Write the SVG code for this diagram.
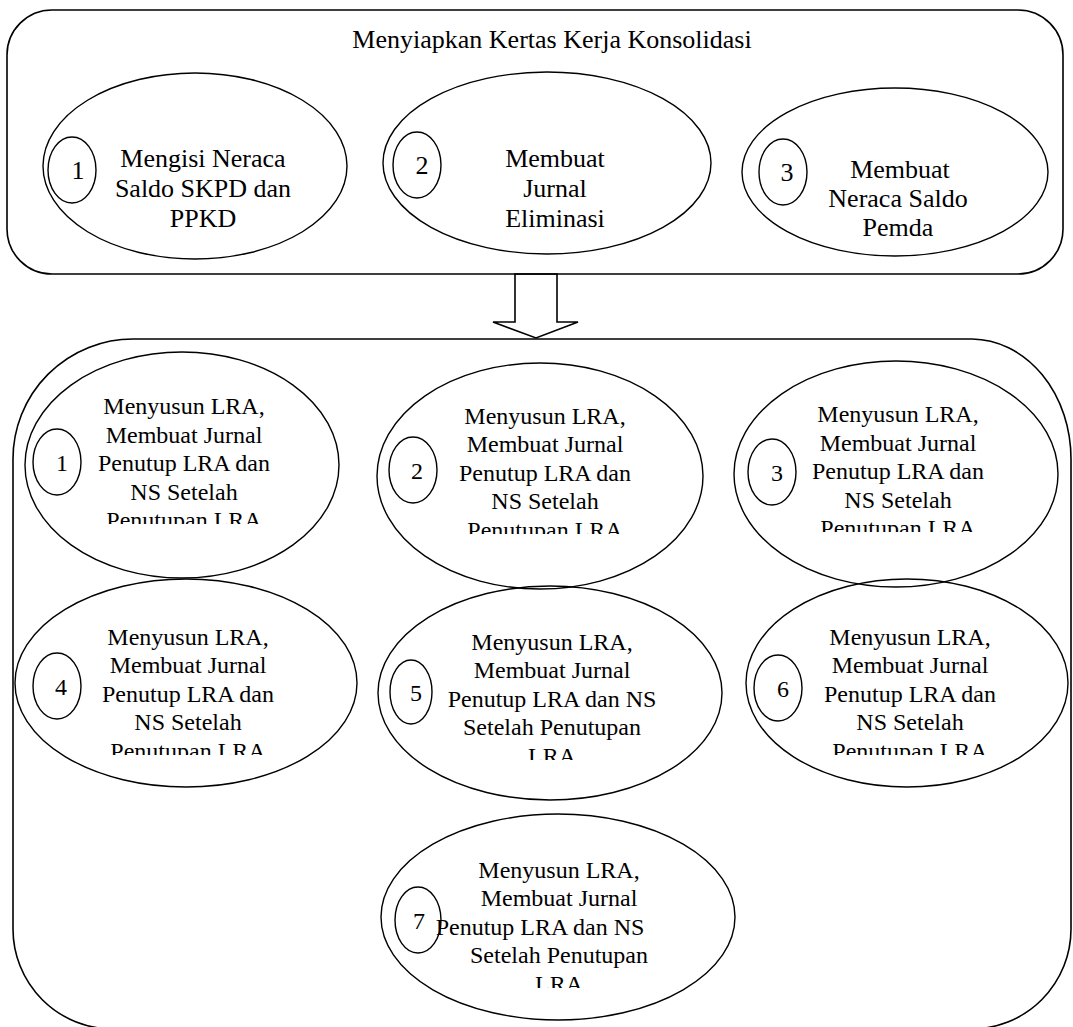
<svg xmlns="http://www.w3.org/2000/svg" width="1073" height="1027" viewBox="0 0 1073 1027">
  <style>
    .frame { fill: none; stroke: #000; stroke-width: 1.6; }
    .oval { fill: none; stroke: #000; stroke-width: 1.4; }
    .num { fill: none; stroke: #000; stroke-width: 1.4; }
    .t { fill: #000; text-anchor: middle; }
    .top { font-size: 26px; }
    .bot { font-size: 24px; }
  </style>
  <defs>
    <clipPath id="cl-b1"><rect x="0" y="380" width="1073" height="144"/></clipPath>
    <clipPath id="cl-b2"><rect x="0" y="380" width="1073" height="154"/></clipPath>
    <clipPath id="cl-b3"><rect x="0" y="380" width="1073" height="152"/></clipPath>
    <clipPath id="cl-b4"><rect x="0" y="600" width="1073" height="155"/></clipPath>
    <clipPath id="cl-b5"><rect x="0" y="600" width="1073" height="160"/></clipPath>
    <clipPath id="cl-b6"><rect x="0" y="600" width="1073" height="155"/></clipPath>
    <clipPath id="cl-b7"><rect x="0" y="830" width="1073" height="158"/></clipPath>
  </defs>
  <rect width="1073" height="1027" fill="#fff"/>

  <g font-family="'Liberation Serif', Tinos, 'DejaVu Serif', serif">

  <!-- upper stage: worksheet preparation -->
  <g id="stage-worksheet">
    <rect class="frame" x="7" y="10" width="1056" height="264" rx="45" ry="45"/>
    <text class="t top" x="552" y="48">Menyiapkan Kertas Kerja Konsolidasi</text>
  </g>

  <g id="step-1">
    <ellipse class="oval" cx="195" cy="166" rx="152" ry="93"/>
    <ellipse class="num" cx="72" cy="170" rx="24" ry="33"/>
    <text class="t top" x="78" y="179">1</text>
    <text class="t top" x="203" y="167">Mengisi Neraca</text>
    <text class="t top" x="203" y="197">Saldo SKPD dan</text>
    <text class="t top" x="203" y="227">PPKD</text>
  </g>

  <g id="step-2">
    <ellipse class="oval" cx="547" cy="163" rx="164" ry="91"/>
    <ellipse class="num" cx="417" cy="165" rx="24" ry="33"/>
    <text class="t top" x="422" y="174">2</text>
    <text class="t top" x="555" y="167">Membuat</text>
    <text class="t top" x="555" y="197">Jurnal</text>
    <text class="t top" x="555" y="227">Eliminasi</text>
  </g>

  <g id="step-3">
    <ellipse class="oval" cx="895" cy="172" rx="153" ry="84"/>
    <ellipse class="num" cx="783" cy="172" rx="24" ry="33"/>
    <text class="t top" x="787" y="181">3</text>
    <text class="t top" x="900" y="178">Membuat</text>
    <text class="t top" x="898" y="207">Neraca Saldo</text>
    <text class="t top" x="898" y="236">Pemda</text>
  </g>

  <!-- block arrow between the two stages -->
  <g id="connectors">
    <polygon class="frame" fill="#fff" points="515,274 515,322 493,322 536,338 578,322 557,322 557,274"/>
  </g>

  <!-- lower stage: closing entries per unit -->
  <g id="stage-closing">
    <path class="frame" d="M133 339 H972 A100 120 0 0 1 1071 459 V929 A100 100 0 0 1 971 1029 H113 A100 100 0 0 1 13 929 V459 A120 120 0 0 1 133 339 Z"/>
  </g>

  <g id="unit-1">
    <ellipse class="oval" cx="182" cy="465" rx="157" ry="113"/>
    <ellipse class="num" cx="57" cy="462" rx="24" ry="33"/>
    <text class="t bot" x="62" y="471">1</text>
    <g clip-path="url(#cl-b1)">
      <text class="t bot" x="184" y="414">Menyusun LRA,</text>
      <text class="t bot" x="184" y="443">Membuat Jurnal</text>
      <text class="t bot" x="184" y="471">Penutup LRA dan</text>
      <text class="t bot" x="184" y="500">NS Setelah</text>
      <text class="t bot" x="184" y="528">Penutupan LRA</text>
    </g>
  </g>

  <g id="unit-2">
    <ellipse class="oval" cx="540" cy="476" rx="163" ry="113"/>
    <ellipse class="num" cx="413" cy="470" rx="24" ry="33"/>
    <text class="t bot" x="417" y="479">2</text>
    <g clip-path="url(#cl-b2)">
      <text class="t bot" x="545" y="424">Menyusun LRA,</text>
      <text class="t bot" x="545" y="452">Membuat Jurnal</text>
      <text class="t bot" x="545" y="481">Penutup LRA dan</text>
      <text class="t bot" x="545" y="509">NS Setelah</text>
      <text class="t bot" x="545" y="538">Penutupan LRA</text>
    </g>
  </g>

  <g id="unit-3">
    <ellipse class="oval" cx="896" cy="474" rx="162" ry="113"/>
    <ellipse class="num" cx="772" cy="472" rx="24" ry="33"/>
    <text class="t bot" x="777" y="481">3</text>
    <g clip-path="url(#cl-b3)">
      <text class="t bot" x="898" y="422">Menyusun LRA,</text>
      <text class="t bot" x="898" y="451">Membuat Jurnal</text>
      <text class="t bot" x="898" y="479">Penutup LRA dan</text>
      <text class="t bot" x="898" y="508">NS Setelah</text>
      <text class="t bot" x="898" y="536">Penutupan LRA</text>
    </g>
  </g>

  <g id="unit-4">
    <ellipse class="oval" cx="186" cy="683" rx="171" ry="104"/>
    <ellipse class="num" cx="57" cy="686" rx="24" ry="33"/>
    <text class="t bot" x="61" y="695">4</text>
    <g clip-path="url(#cl-b4)">
      <text class="t bot" x="188" y="645">Menyusun LRA,</text>
      <text class="t bot" x="188" y="673">Membuat Jurnal</text>
      <text class="t bot" x="188" y="702">Penutup LRA dan</text>
      <text class="t bot" x="188" y="730">NS Setelah</text>
      <text class="t bot" x="188" y="759">Penutupan LRA</text>
    </g>
  </g>

  <g id="unit-5">
    <ellipse class="oval" cx="550" cy="693" rx="172" ry="107"/>
    <ellipse class="num" cx="411" cy="692" rx="21" ry="32"/>
    <text class="t bot" x="416" y="701">5</text>
    <g clip-path="url(#cl-b5)">
      <text class="t bot" x="552" y="650">Menyusun LRA,</text>
      <text class="t bot" x="552" y="678">Membuat Jurnal</text>
      <text class="t bot" x="552" y="707">Penutup LRA dan NS</text>
      <text class="t bot" x="552" y="735">Setelah Penutupan</text>
      <text class="t bot" x="552" y="764">LRA</text>
    </g>
  </g>

  <g id="unit-6">
    <ellipse class="oval" cx="907" cy="683" rx="161" ry="104"/>
    <ellipse class="num" cx="778" cy="688" rx="24" ry="33"/>
    <text class="t bot" x="783" y="697">6</text>
    <g clip-path="url(#cl-b6)">
      <text class="t bot" x="910" y="645">Menyusun LRA,</text>
      <text class="t bot" x="910" y="673">Membuat Jurnal</text>
      <text class="t bot" x="910" y="702">Penutup LRA dan</text>
      <text class="t bot" x="910" y="730">NS Setelah</text>
      <text class="t bot" x="910" y="759">Penutupan LRA</text>
    </g>
  </g>

  <g id="unit-7">
    <ellipse class="oval" cx="558" cy="917" rx="177" ry="103"/>
    <ellipse class="num" cx="418" cy="920" rx="23" ry="33"/>
    <text class="t bot" x="419" y="929">7</text>
    <g clip-path="url(#cl-b7)">
      <text class="t bot" x="559" y="878">Menyusun LRA,</text>
      <text class="t bot" x="559" y="906">Membuat Jurnal</text>
      <text class="t bot" x="540" y="935">Penutup LRA dan NS</text>
      <text class="t bot" x="559" y="963">Setelah Penutupan</text>
      <text class="t bot" x="559" y="992">LRA</text>
    </g>
  </g>

  </g>
</svg>
